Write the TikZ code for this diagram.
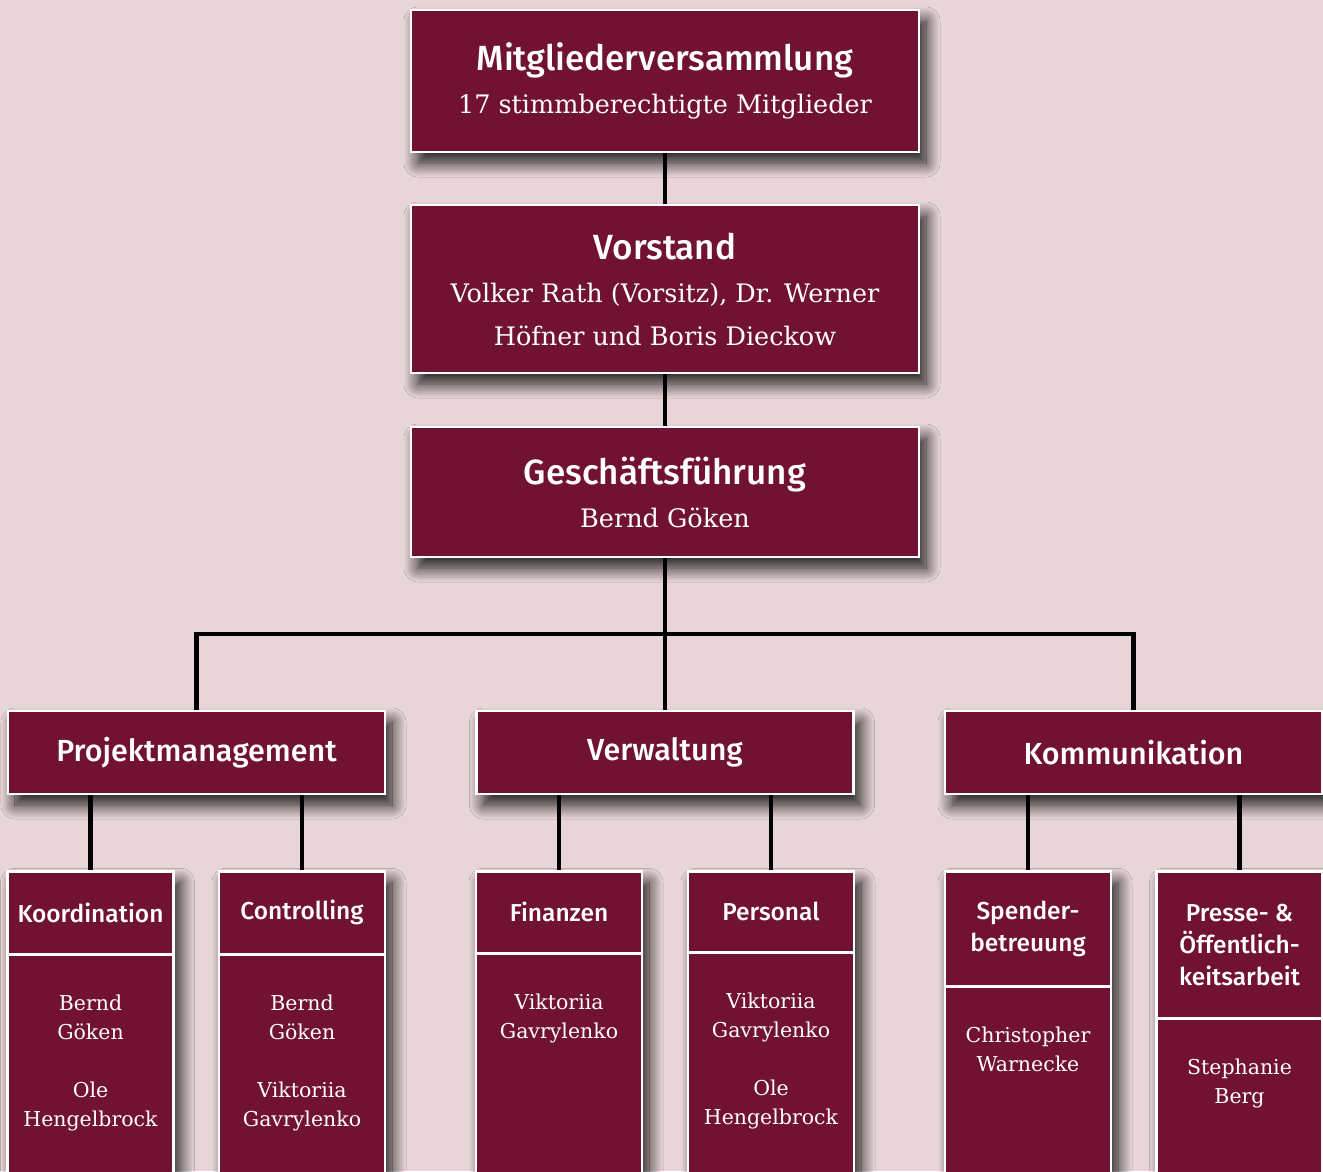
\documentclass[tikz,border=0pt]{standalone}
\usepackage{fontspec}
\setmainfont{DejaVu Serif}
\newfontfamily\headfont{Fira Sans Medium}
\usepackage{tikz}
\usetikzlibrary{positioning, shadows.blur}
\definecolor{bgrose}{HTML}{E8D5D8}
\definecolor{wine}{HTML}{721232}

\begin{document}
\begin{tikzpicture}[
    x=1pt, y=-1pt,
    flat/.style={rectangle, draw=white, line width=2.5pt, fill=wine, text=white, align=center},
    box/.style={flat,
        blur shadow={shadow xshift=7pt, shadow yshift=-11pt, shadow blur radius=14pt, shadow blur steps=16, shadow opacity=90}},
    topbox/.style={box, minimum width=508pt, font=\fontsize{25.5}{43}\selectfont},
    deptbox/.style={box, minimum width=377pt, minimum height=83pt, font=\headfont\fontsize{30.5}{38}\selectfont},
    unitbody/.style={box, anchor=north, minimum width=166pt, minimum height=330pt},
    unitbox/.style={flat, anchor=north, minimum width=166pt, inner ysep=0pt, font=\headfont\fontsize{24.5}{32}\selectfont},
    names/.style={anchor=north, text=white, align=center, font=\fontsize{20.5}{29}\selectfont},
    conn/.style={line width=4.5pt, black}
]
    \useasboundingbox (0,0) rectangle (1323,1171);
    \clip (0,0) rectangle (1323,1171);
    \fill[bgrose] (0,0) rectangle (1323,1171);

    % Leitung
    \node[topbox, minimum height=142pt] (mv) at (665,81)
        {{\headfont\fontsize{35}{43}\selectfont Mitgliederversammlung}\\17 stimmberechtigte Mitglieder};
    \node[topbox, minimum height=168pt] (vs) at (665,289)
        {{\headfont\fontsize{35}{43}\selectfont Vorstand}\\Volker Rath (Vorsitz), Dr. Werner\\H\"ofner und Boris Dieckow};
    \node[topbox, minimum height=130pt] (gf) at (665,492)
        {{\headfont\fontsize{35}{43}\selectfont Gesch\"aftsf\"uhrung}\\Bernd G\"oken};

    % Bereiche
    \node[deptbox] (proj) at (196.5,752.5) {Projektmanagement};
    \node[deptbox] (verw) at (665,752.5) {Verwaltung};
    \node[deptbox] (komm) at (1133.5,752.5) {Kommunikation};
    \coordinate (hub) at (665,634);

    % Aufgaben
    \node[unitbody] (koordb) at (90.5,870) {};
    \node[unitbox, minimum height=83pt] (koord) at (koordb.north) {Koordination};
    \node[names, below=36pt of koord.south] (koordn) {Bernd\\G\"oken\\[29pt]Ole\\Hengelbrock};

    \node[unitbody] (contrb) at (302,870) {};
    \node[unitbox, minimum height=83pt] (contr) at (contrb.north) {Controlling};
    \node[names, below=36pt of contr.south] (contrn) {Bernd\\G\"oken\\[29pt]Viktoriia\\Gavrylenko};

    \node[unitbody] (finb) at (559,870) {};
    \node[unitbox, minimum height=82pt] (fin) at (finb.north) {Finanzen};
    \node[names, below=36pt of fin.south] (finn) {Viktoriia\\Gavrylenko};

    \node[unitbody] (persb) at (771,870) {};
    \node[unitbox, minimum height=81pt] (pers) at (persb.north) {Personal};
    \node[names, below=36pt of pers.south] (persn) {Viktoriia\\Gavrylenko\\[29pt]Ole\\Hengelbrock};

    \node[unitbody] (spendb) at (1028,870) {};
    \node[unitbox, minimum height=115pt] (spend) at (spendb.north) {Spender-\\betreuung};
    \node[names, below=36pt of spend.south] (spendn) {Christopher\\Warnecke};

    \node[unitbody] (presseb) at (1239.5,870) {};
    \node[unitbox, minimum height=147pt] (presse) at (presseb.north) {Presse- \&\\\"Offentlich-\\keitsarbeit};
    \node[names, below=36pt of presse.south] (pressen) {Stephanie\\Berg};

    % Verbindungen
    \draw[conn] (mv) -- (vs);
    \draw[conn] (vs) -- (gf);
    \draw[conn] (gf) -- (verw);
    \draw[conn] (proj.north) |- (hub) -| (komm.north);
    \draw[conn] (koord.north |- proj.south) -- (koord.north);
    \draw[conn] (contr.north |- proj.south) -- (contr.north);
    \draw[conn] (fin.north |- verw.south) -- (fin.north);
    \draw[conn] (pers.north |- verw.south) -- (pers.north);
    \draw[conn] (spend.north |- komm.south) -- (spend.north);
    \draw[conn] (presse.north |- komm.south) -- (presse.north);
\end{tikzpicture}
\end{document}
